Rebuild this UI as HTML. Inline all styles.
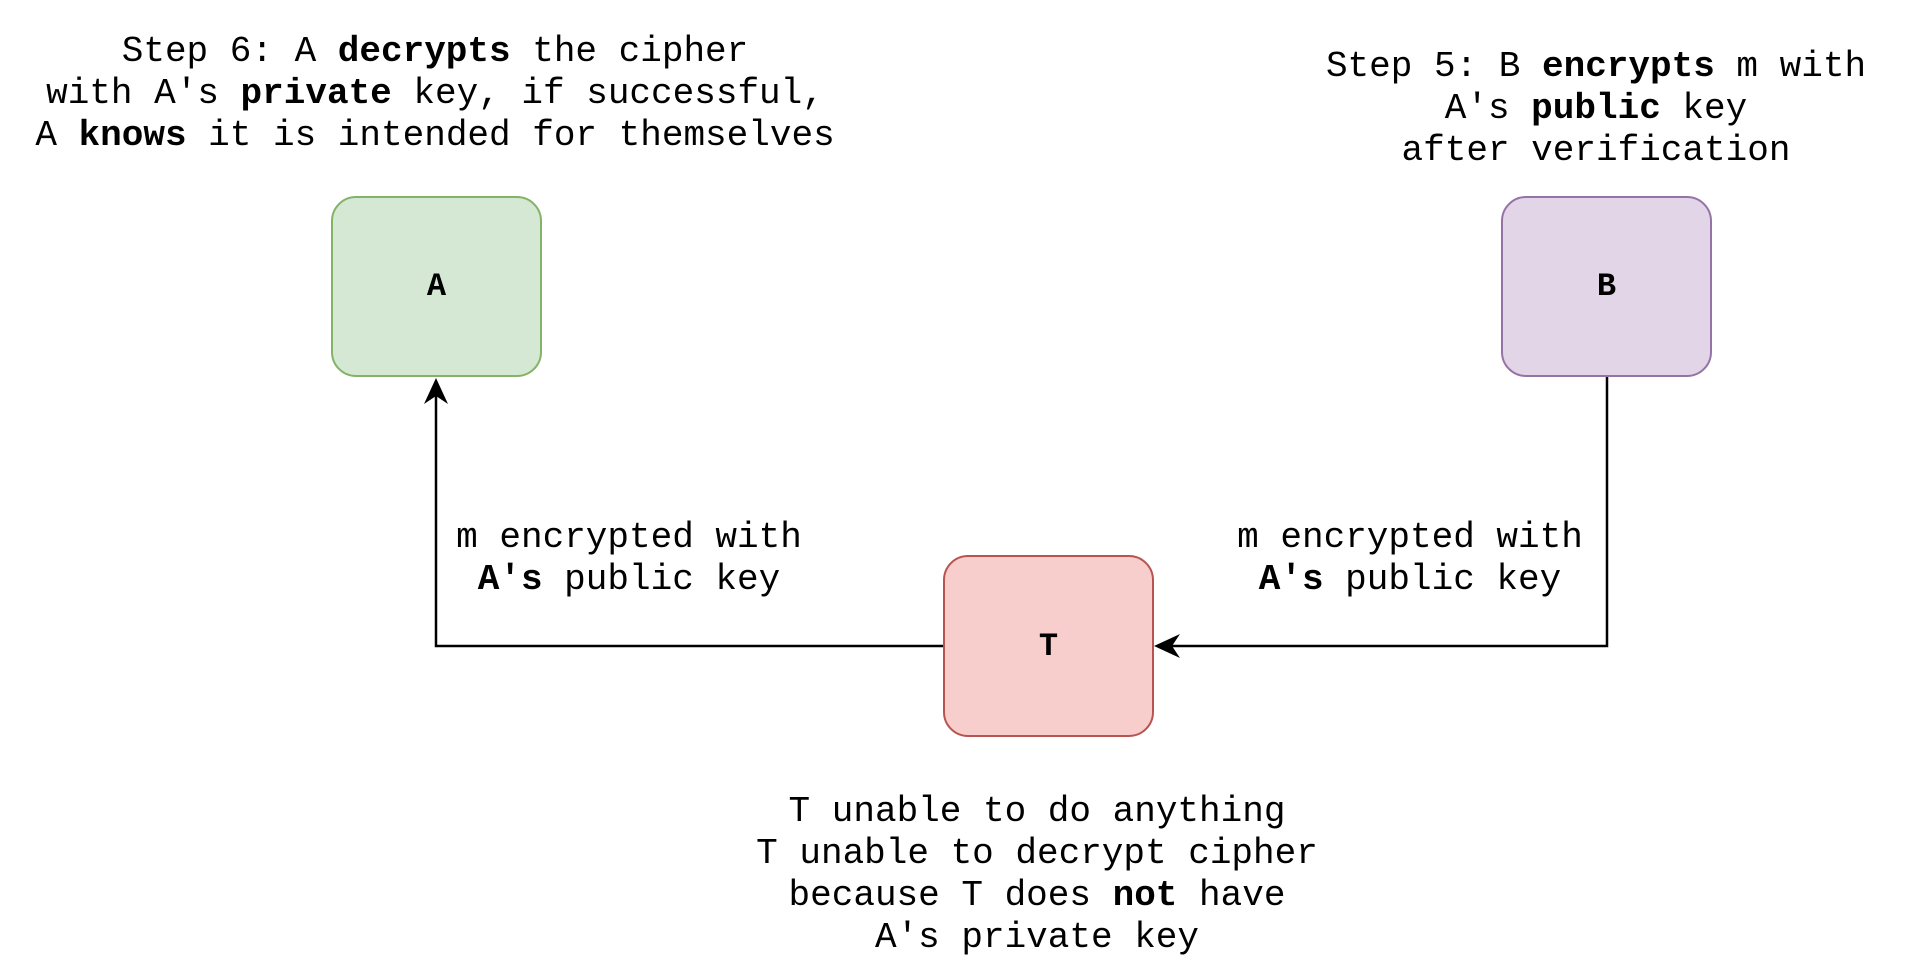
<!DOCTYPE html>
<html><head><style>
body{margin:0;width:1920px;height:975px;background:#fff;position:relative;overflow:hidden;font-family:"Liberation Mono",monospace;font-size:36px;color:#000}
.t{position:absolute;text-align:center;line-height:42px;white-space:pre;transform:translateX(-50%)}
.box{position:absolute;border-radius:25px;border:2.5px solid;box-sizing:border-box;display:flex;align-items:center;justify-content:center;font-weight:bold;font-size:32px}
</style></head><body>
<svg width="1920" height="975" style="position:absolute;left:0;top:0">
<path d="M943 646 H436 V393" fill="none" stroke="#000" stroke-width="2.5"/>
<polygon points="436,378 424,404 436,396 448,404" fill="#000"/>
<path d="M1607 376 V646 H1168" fill="none" stroke="#000" stroke-width="2.5"/>
<polygon points="1154,646 1180,634 1172,646 1180,658" fill="#000"/>
</svg>
<div class="box" style="left:331px;top:196px;width:211px;height:181px;background:#d5e8d4;border-color:#82b366">A</div>
<div class="box" style="left:1501px;top:196px;width:211px;height:181px;background:#e1d5e7;border-color:#9673a6">B</div>
<div class="box" style="left:943px;top:555px;width:211px;height:182px;background:#f8cecc;border-color:#b85450">T</div>
<div class="t" style="left:435px;top:31px">Step 6: A <b>decrypts</b> the cipher
with A's <b>private</b> key, if successful,
A <b>knows</b> it is intended for themselves</div>
<div class="t" style="left:1596px;top:46px">Step 5: B <b>encrypts</b> m with
A's <b>public</b> key
after verification</div>
<div class="t" style="left:629px;top:517px">m encrypted with
<b>A's</b> public key</div>
<div class="t" style="left:1410px;top:517px">m encrypted with
<b>A's</b> public key</div>
<div class="t" style="left:1037px;top:791px">T unable to do anything
T unable to decrypt cipher
because T does <b>not</b> have
A's private key</div>
</body></html>
